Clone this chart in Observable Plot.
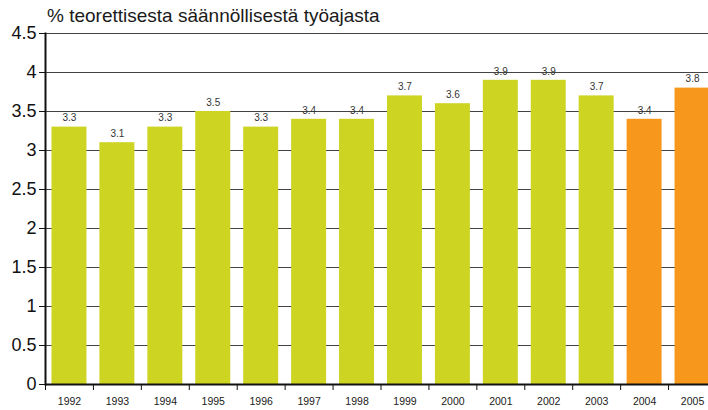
<!DOCTYPE html>
<html><head><meta charset="utf-8">
<script src="https://cdn.jsdelivr.net/npm/d3@7"></script>
<script src="https://cdn.jsdelivr.net/npm/@observablehq/plot@0.6"></script>
<style>
body{margin:0;background:#fff;font-family:"Liberation Sans",Arial,Helvetica,sans-serif;}
#wrap{position:relative;width:708px;height:410px;overflow:hidden;}
#title{position:absolute;left:47px;top:5px;font-size:19px;line-height:21px;color:#1a1a1a;white-space:nowrap;}
#chart{position:absolute;left:0;top:0;}
#chart svg{overflow:visible;}
</style></head><body>
<div id="wrap"><div id="chart"></div><div id="title"></div></div>
<script>
const titleText = "% teorettisesta säännöllisestä työajasta";
const years = ["1992","1993","1994","1995","1996","1997","1998","1999","2000","2001","2002","2003","2004","2005"];
const values = [3.3, 3.1, 3.3, 3.5, 3.3, 3.4, 3.4, 3.7, 3.6, 3.9, 3.9, 3.7, 3.4, 3.8];
const groups = ["a","a","a","a","a","a","a","a","a","a","a","a","b","b"];
const yTicks = [0, 0.5, 1, 1.5, 2, 2.5, 3, 3.5, 4, 4.5];
const colors = ["#cdd422", "#f7981d"];

document.getElementById("title").textContent = titleText;
const data = years.map((y, i) => ({year: y, value: values[i], group: groups[i]}));
const xRange = [45, 716];
const step = (xRange[1] - xRange[0]) / years.length;

const plot = Plot.plot({
  width: 708, height: 410,
  marginLeft: 45, marginRight: 0, marginTop: 33, marginBottom: 26,
  style: {fontFamily: '"Liberation Sans", Arial, sans-serif', background: "transparent", color: "#1a1a1a"},
  x: {domain: years, range: xRange, round: false, paddingInner: 0.27, paddingOuter: 0.135, label: null},
  y: {domain: [0, 4.5], label: null},
  color: {domain: ["a", "b"], range: colors},
  marks: [
    Plot.gridY(yTicks, {stroke: "#444", strokeOpacity: 1, strokeWidth: 1}),
    Plot.barY(data, {x: "year", y: "value", fill: "group"}),
    Plot.text(data, {x: "year", y: "value", text: d => d.value.toFixed(1), dy: -9, fontSize: 10, fill: "#333"}),
    Plot.axisY(yTicks, {tickSize: 6, tickPadding: 3, fontSize: 18, tickFormat: d => String(d), stroke: "#111", fill: "#111", label: null}),
    Plot.axisX({tickSize: 0, tickPadding: 13, fontSize: 10.5, label: null}),
    Plot.axisX({tickSize: 6, text: null, dx: -step / 2, stroke: "#111", label: null}),
    Plot.ruleY([0], {stroke: "#111", strokeWidth: 2}),
    Plot.frame({anchor: "left", stroke: "#111", strokeWidth: 2})
  ]
});
document.getElementById("chart").appendChild(plot);
</script>
</body></html>
